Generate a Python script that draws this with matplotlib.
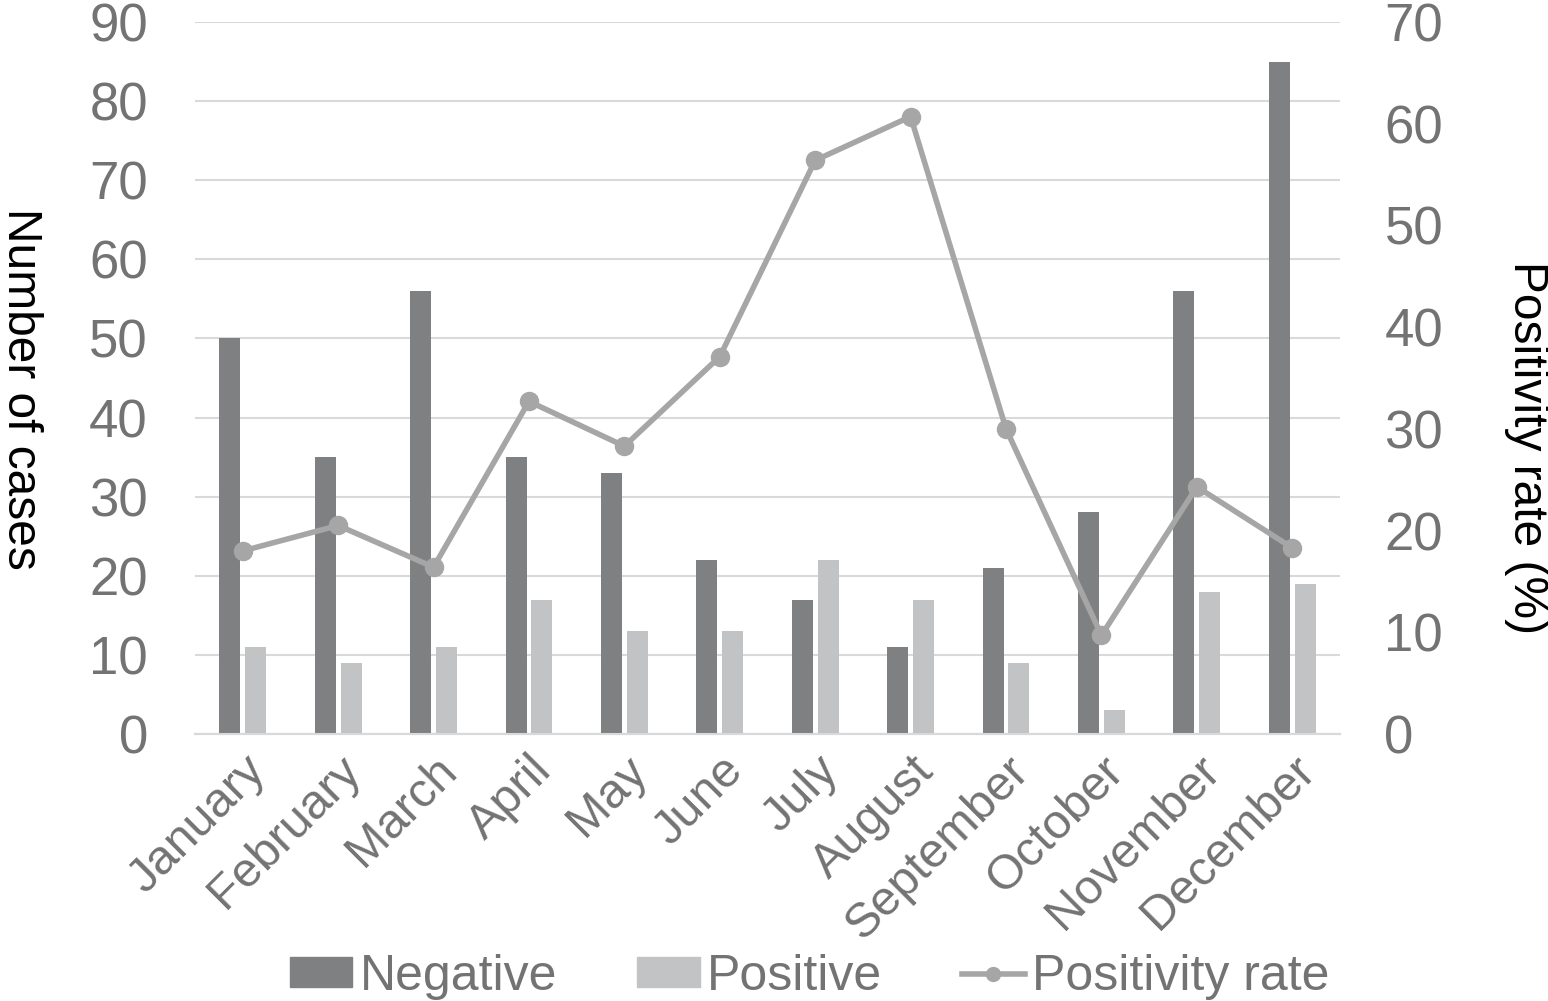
import numpy as np
import matplotlib
matplotlib.use('Agg')
import matplotlib.pyplot as plt
from matplotlib.patches import Patch
from matplotlib.lines import Line2D

plt.rcParams['font.family'] = ['Liberation Sans', 'DejaVu Sans']

months = ['January', 'February', 'March', 'April', 'May', 'June', 'July',
          'August', 'September', 'October', 'November', 'December']
negative = [50, 35, 56, 35, 33, 22, 17, 11, 21, 28, 56, 85]
positive = [11, 9, 11, 17, 13, 13, 22, 17, 9, 3, 18, 19]
rate = [18.0, 20.5, 16.4, 32.7, 28.3, 37.1, 56.4, 60.7, 30.0, 9.7, 24.3, 18.3]
left_ticks = list(range(0, 91, 10))
right_ticks = list(range(0, 71, 10))

c_neg = '#7f8082'
c_pos = '#c1c3c4'
c_line = '#a6a6a6'
c_text = '#737373'
c_grid = '#d9d9d9'

fig = plt.figure(figsize=(15.48, 10.01), dpi=100)
ax = fig.add_axes([195 / 1548, 1 - 734 / 1001, (1340 - 195) / 1548, (734 - 22) / 1001])
ax2 = ax.twinx()

x = np.arange(len(months))
w = 0.22
ax.bar(x - 0.135, negative, w, color=c_neg, zorder=3)
ax.bar(x + 0.135, positive, w, color=c_pos, zorder=3)
ax2.plot(x, rate, color=c_line, lw=4, marker='o', ms=13, zorder=4)

ax.set_xlim(-0.5, len(months) - 0.5)
ax.set_ylim(0, 90)
ax2.set_ylim(0, 70)
ax.set_yticks(left_ticks)
ax2.set_yticks(right_ticks)
ax.yaxis.grid(True, color=c_grid, lw=1.5, zorder=0)
ax.set_axisbelow(True)

for a in (ax, ax2):
    for s in ['top', 'left', 'right']:
        a.spines[s].set_visible(False)
    a.spines['bottom'].set_color(c_grid)
    a.spines['bottom'].set_linewidth(1.5)
    a.tick_params(length=0)

ax.tick_params(axis='y', labelsize=38, labelcolor=c_text, pad=34)
ax2.tick_params(axis='y', labelsize=38, labelcolor=c_text, pad=32)

ax.set_xticks(x)
ax.set_xticklabels(months, rotation=45, ha='right', va='top',
                   rotation_mode='anchor', fontsize=35, color=c_text)
ax.tick_params(axis='x', pad=10)

fig.text(20 / 1548, 1 - 389 / 1001, 'Number of cases', rotation=270,
         ha='center', va='center', fontsize=34.5, color='black')
fig.text(1527 / 1548, 1 - 448 / 1001, 'Positivity rate (%)', rotation=270,
         ha='center', va='center', fontsize=34.5, color='black')

handles = [Patch(color=c_neg), Patch(color=c_pos),
           Line2D([0], [0], color=c_line, lw=4, marker='o', ms=10)]
fig.legend(handles, ['Negative', 'Positive', 'Positivity rate'],
           loc='center', bbox_to_anchor=(0.523, 1 - 977 / 1001), ncol=3,
           frameon=False, fontsize=36, labelcolor=c_text,
           handlelength=1.25, handleheight=0.55, handletextpad=0.15,
           columnspacing=1.6, borderaxespad=0, borderpad=0)

fig.savefig('out.png', dpi=100)
